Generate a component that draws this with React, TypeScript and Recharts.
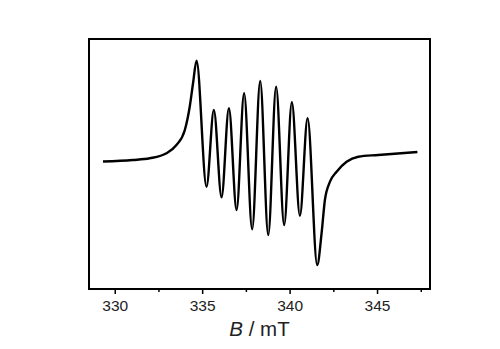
import React from 'react';
import { LineChart, Line, XAxis, YAxis, ReferenceArea } from 'recharts';

// Magnetic field B (mT) and EPR signal (arbitrary units)
const fieldB = [
  329.3, 331.0, 331.97, 332.93, 333.5, 333.98, 334.26, 334.45, 334.65, 335.22,
  335.64, 336.08, 336.5, 336.94, 337.37, 337.83, 338.29, 338.75, 339.2, 339.66,
  340.1, 340.56, 341.0, 341.55, 341.8, 341.99, 342.28, 342.66, 343.23, 343.9,
  345.04, 347.28,
];
const signal = [
  -0.5, 1.0, 2.7, 7.7, 16, 31, 54.3, 77.7, 100.3, -25.7,
  51, -36.3, 52.7, -49, 67.7, -68.3, 80, -74, 74.3, -64,
  58.7, -54.7, 42.7, -104, -72.3, -39, -20.7, -10.7, -0.7, 4.3,
  6, 9,
];
const majorTicks = [330, 335, 340, 345];
const minorTicks = [332.5, 337.5, 342.5, 347.5];
const xDomain: [number, number] = [328.5, 348];
const yDomain: [number, number] = [-128, 122];

const data = fieldB.map((b, i) => ({ b, s: signal[i] }));
const FONT = '"Liberation Sans", Arial, sans-serif';

const Tick = (props: any) => {
  const { x, y, payload } = props;
  const isMajor = majorTicks.includes(payload.value);
  return (
    <g>
      <line x1={x} x2={x} y1={y} y2={y + (isMajor ? 5 : 3)} stroke="#000" strokeWidth={1.5} />
      {isMajor && (
        <text x={x} y={y + 22} textAnchor="middle" fontSize={15.5} fontFamily={FONT} fill="#222">
          {payload.value}
        </text>
      )}
    </g>
  );
};

const AxisLabel = (props: any) => {
  const vb = props.viewBox || {};
  const cx = (vb.x ?? 89) + (vb.width ?? 341) / 2;
  return (
    <text x={cx} y={336} textAnchor="middle" fontSize={20.5} fontFamily={FONT} fill="#222">
      <tspan fontStyle="italic">B</tspan>
      <tspan> / mT</tspan>
    </text>
  );
};

export default function App() {
  return (
    <div style={{ position: 'absolute', left: 0, top: 0, width: 500, height: 349, background: '#fff' }}>
      <LineChart width={500} height={349} data={data} margin={{ top: 39, right: 70, left: 89, bottom: 30 }}>
        <XAxis
          dataKey="b"
          type="number"
          domain={xDomain}
          allowDataOverflow
          ticks={[...majorTicks, ...minorTicks].sort((a, b) => a - b)}
          interval={0}
          tickLine={false}
          tickSize={0}
          tickMargin={0}
          tick={<Tick />}
          height={30}
          axisLine={{ stroke: '#000', strokeWidth: 2 }}
          label={<AxisLabel />}
        />
        <YAxis
          type="number"
          domain={yDomain}
          allowDataOverflow
          hide
        />
        <ReferenceArea
          x1={xDomain[0]}
          x2={xDomain[1]}
          y1={yDomain[0]}
          y2={yDomain[1]}
          fill="none"
          fillOpacity={0}
          stroke="#000"
          strokeWidth={2}
          strokeOpacity={1}
          ifOverflow="visible"
        />
        <Line
          dataKey="s"
          type="monotone"
          stroke="#000"
          strokeWidth={2.4}
          dot={false}
          isAnimationActive={false}
        />
      </LineChart>
    </div>
  );
}
